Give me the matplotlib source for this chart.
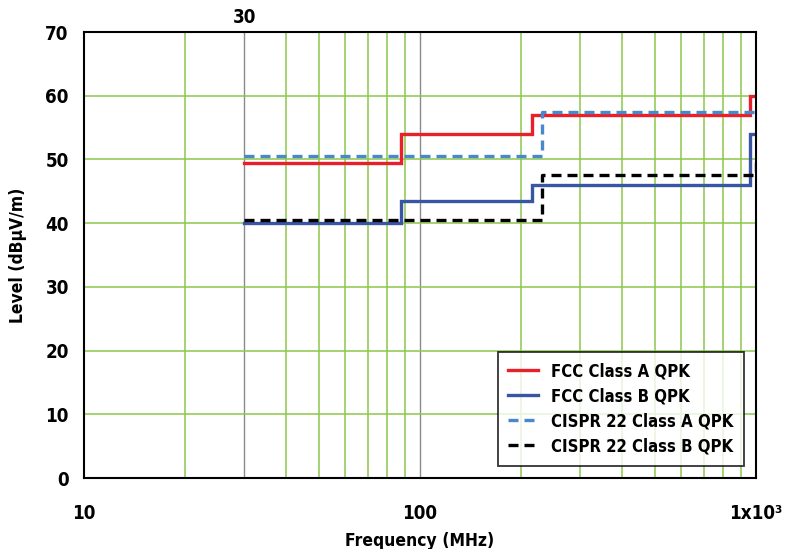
import matplotlib
matplotlib.use("Agg")
import matplotlib.pyplot as plt
from matplotlib.lines import Line2D

# Radiated emission limits at 3 m (dBµV/m) vs frequency (MHz)
fcc_a_freq = [30, 88, 88, 216, 216, 960, 960, 1000]
fcc_a_level = [49.5, 49.5, 54.0, 54.0, 56.9, 56.9, 60.0, 60.0]

fcc_b_freq = [30, 88, 88, 216, 216, 960, 960, 1000]
fcc_b_level = [40.0, 40.0, 43.5, 43.5, 46.0, 46.0, 54.0, 54.0]

cispr_a_freq = [30, 230, 230, 1000]
cispr_a_level = [50.5, 50.5, 57.5, 57.5]

cispr_b_freq = [30, 230, 230, 1000, 1000]
cispr_b_level = [40.5, 40.5, 47.5, 47.5, 50.0]

series_names = ["FCC Class A QPK", "FCC Class B QPK",
                "CISPR 22 Class A QPK", "CISPR 22 Class B QPK"]

green_grid_x = [20, 40, 50, 60, 70, 80, 90, 200, 300, 400, 500, 600, 700, 800, 900]
gray_grid_x = [30, 100]
grid_y = [10, 20, 30, 40, 50, 60]
y_ticks = [0, 10, 20, 30, 40, 50, 60, 70]
x_ticks = [10, 100, 1000]
x_tick_labels = ["10", "100", "1x10³"]

plt.rcParams['font.family'] = ['DejaVu Sans']
plt.rcParams['font.stretch'] = 'condensed'

fig = plt.figure(figsize=(7.86, 5.49), dpi=100)
ax = fig.add_axes([0.1069, 0.1293, 0.8549, 0.8124])
ax.set_xscale('log')
ax.set_xlim(10, 1000)
ax.set_ylim(0, 70)

grid_green = '#8cc84b'
for gx in green_grid_x:
    ax.axvline(gx, color=grid_green, lw=1.1, zorder=1)
for gx in gray_grid_x:
    ax.axvline(gx, color='#8a8a8a', lw=1.0, zorder=1)
for gy in grid_y:
    ax.axhline(gy, color=grid_green, lw=1.1, zorder=1)

red = '#e8202a'
blue = '#3b55a5'
lblue = '#4a88cc'
dash = (0, (3.0, 1.8))

ax.plot(fcc_a_freq, fcc_a_level, color=red, lw=2.4, zorder=3, solid_joinstyle='miter')
ax.plot(fcc_b_freq, fcc_b_level, color=blue, lw=2.4, zorder=3, solid_joinstyle='miter')
ax.plot(cispr_a_freq, cispr_a_level, color=lblue, lw=2.4, ls=dash, zorder=4)
ax.plot(cispr_b_freq, cispr_b_level, color='black', lw=2.4, ls=dash, zorder=4)

ax.set_yticks(y_ticks)
ax.set_yticklabels([str(v) for v in y_ticks], fontsize=13.5, fontweight='bold')
ax.xaxis.set_minor_locator(matplotlib.ticker.NullLocator())
ax.set_xticks(x_ticks)
ax.set_xticklabels(x_tick_labels, fontsize=13.5, fontweight='bold')
ax.tick_params(axis='both', length=0)
ax.tick_params(axis='y', pad=11)
ax.tick_params(axis='x', pad=19)

ax.text(30, 1.012, "30", transform=ax.get_xaxis_transform(), ha='center', va='bottom',
        fontsize=13.5, fontweight='bold')

ax.set_xlabel("Frequency (MHz)", fontsize=12.5, fontweight='bold', labelpad=6)
ax.set_ylabel("Level (dBµV/m)", fontsize=12.5, fontweight='bold', labelpad=13)

for sp in ax.spines.values():
    sp.set_linewidth(1.5)
    sp.set_color('black')
    sp.set_zorder(5)

handles = [
    Line2D([], [], color=red, lw=2.4),
    Line2D([], [], color=blue, lw=2.4),
    Line2D([], [], color=lblue, lw=2.4, ls=dash),
    Line2D([], [], color='black', lw=2.4, ls=dash),
]
leg = ax.legend(handles, series_names, loc='lower right', bbox_to_anchor=(0.982, 0.028),
                prop={'size': 12, 'weight': 'bold', 'stretch': 'condensed'},
                frameon=True, fancybox=False,
                handlelength=1.8, handletextpad=0.8, labelspacing=0.42,
                borderpad=0.62, borderaxespad=0)
leg.get_frame().set_edgecolor('black')
leg.get_frame().set_linewidth(1.3)
leg.set_zorder(6)

fig.savefig("out.png", dpi=100)
